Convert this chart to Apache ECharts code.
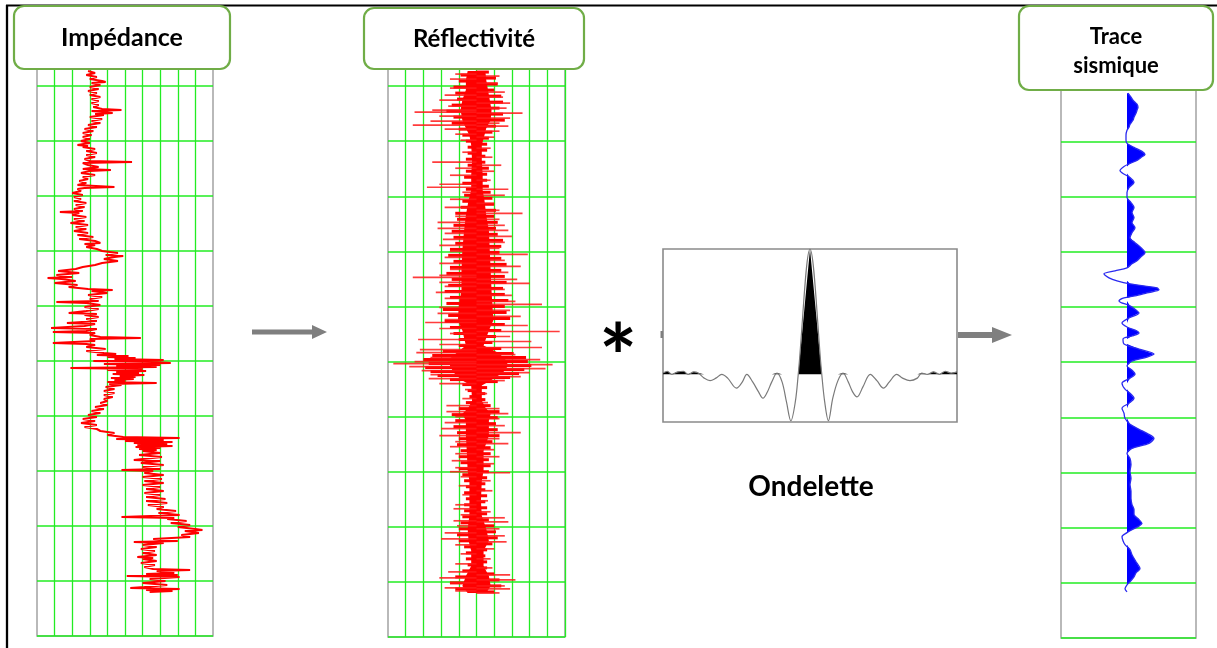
<!DOCTYPE html>
<html><head><meta charset="utf-8">
<script src="https://cdn.jsdelivr.net/npm/echarts@6/dist/echarts.min.js"></script>
<style>html,body{margin:0;padding:0;background:#fff}#c{width:1217px;height:648px}</style>
</head><body><div id="c"></div>
<script>
// ---------------- DATA ----------------
const panelTitles = ['Impédance', 'Réflectivité', 'Trace', 'sismique'];
const waveletTitle = 'Ondelette';
const convSymbol = '*';

// Impedance log: [time, impedance (relative, 0-100)]
const impLog = [
[40,29],[42,33],[44,28],[46,34],[48,30],[50,37],[51,39],[52,31],[54,36],[56,30],
[58,35],[60,29],[62,34],[64,30],[66,36],[68,31],[70,35],[72,31],[74,35],[76,32],
[78,37],[79,48],[80,31],[82,43],[83,33],[84,38],[86,30],[88,37],[90,31],[92,36],
[94,29],[96,34],[98,27],[100,32],[102,26],[104,31],[106,26],[108,30],[110,25],[112,30],
[114,23],[115,29],[116,26],[118,33],[120,28],[122,34],[124,28],[126,33],[128,27],[130,30],
[131,54],[132,26],[134,29],[136,35],[138,26],[139,42],[140,30],[142,25],[144,33],[146,26],
[148,29],[150,24],[152,28],[154,23],[156,44],[157,27],[158,23],[160,25],[162,20],[164,26],
[166,21],[168,25],[170,21],[172,28],[174,22],[176,27],[178,21],[180,26],[181,13],[182,24],
[184,20],[186,28],[188,21],[190,27],[192,19],[194,29],[196,22],[198,28],[200,21],[202,29],
[204,23],[206,32],[208,24],[210,33],[212,36],[213,27],[214,33],[216,28],[218,34],[220,37],
[222,46],[224,39],[225,49],[226,44],[228,38],[230,46],[232,37],[234,33],[236,26],[238,22],
[240,12],[242,24],[244,11],[246,20],[247,6],[248,14],[250,22],[252,10],[254,23],[256,18],
[258,29],[259,43],[260,31],[262,40],[264,29],[266,37],[268,30],[270,35],[271,11],[272,28],
[274,36],[276,27],[278,35],[280,28],[282,18],[283,34],[284,27],[286,35],[288,28],[290,34],
[292,17],[293,33],[295,27],[297,8],[298,34],[300,28],[301,9],[302,33],[304,30],[306,36],
[307,59],[308,30],[310,33],[312,9],[313,28],[314,33],[316,28],[318,39],[320,28],[322,38],
[323,45],[324,34],[325,52],[326,40],[327,56],[328,44],[329,72],[330,32],[331,66],[332,76],
[333,38],[334,70],[335,45],[336,68],[337,19],[338,60],[339,40],[340,62],[341,45],[342,58],
[343,43],[344,61],[345,47],[346,56],[347,42],[348,55],[349,44],[350,50],[351,40],[352,68],
[353,41],[354,48],[356,39],[358,44],[360,38],[362,44],[364,38],[366,43],[368,38],[370,40],
[372,36],[374,40],[376,33],[378,38],[380,31],[382,36],[384,29],[386,34],[388,26],[390,33],
[392,25],[394,34],[396,27],[398,34],[400,36],[402,44],[404,40],[406,49],[407,81],[408,45],
[409,72],[410,50],[411,77],[412,55],[413,74],[414,57],[415,77],[416,56],[417,70],[418,58],
[419,68],[420,60],[422,70],[424,58],[426,71],[428,60],[429,55],[430,70],[432,59],[434,72],
[436,60],[438,70],[439,48],[440,66],[442,61],[444,72],[446,60],[448,71],[450,61],[452,72],
[454,60],[456,70],[458,62],[460,72],[462,61],[464,70],[466,62],[468,73],[470,62],[472,74],
[474,63],[476,72],[478,68],[480,79],[482,69],[484,81],[486,48],[487,78],[488,74],[490,85],
[492,76],[494,87],[496,80],[498,90],[499,94],[500,84],[502,92],[504,82],[506,87],[508,66],
[510,80],[511,55],[512,72],[514,60],[516,68],[518,59],[520,67],[522,60],[524,68],[526,57],
[527,66],[528,60],[530,68],[532,59],[534,67],[536,61],[538,66],[539,87],[540,68],[542,78],
[543,62],[544,80],[545,51],[546,81],[548,64],[550,73],[552,60],[554,74],[556,61],[557,53],
[558,81],[559,62],[560,77],[561,64]
];

// Reflectivity dense core envelope: [time, left, right]
const refCore = [
[40,-5,5],[49,-6,5.5],[59,-6,6.5],[69,-8,7.5],[79,-9,8.5],[89,-8,8],[97,-6,5.5],[104,-4,4.5],
[114,-3,3],[129,-2.5,3],[144,-3,3.5],[159,-3,3.5],[169,-4.5,4.5],[184,-6,5.5],[199,-7,7],
[219,-8,7.5],[239,-8.5,8],[259,-8.5,8.5],[274,-10,9],[289,-10.5,9.5],[299,-8,7],[314,-6,4],
[321,-11,12],[327,-15,16],[334,-15,18],[341,-13,15],[349,-8,8],[354,-3,3],[369,-2.5,3],
[376,-4.5,5],[382,-8,8],[389,-6,7],[404,-6,7],[419,-5.5,4],[439,-5,4],[449,-4,3],[469,-4,2.5],
[484,-4,3],[497,-5,5.5],[509,-4.5,7],[519,-3,4],[534,-3,4],[544,-6,7],[554,-8,8],[561,-5,5.5]
];

// Reflectivity, strong reflections: [time, reflection coefficient]
const refSpikes = [
[43,-12],[45,13],[48,-15],[52,12],[57,-15],[61,16],[64,-18],[66,15],[69,-21],[72,19],
[75,-16],[77,17],[79,-25],[81,-35],[82,26],[85,-21],[87,19],[90,-26],[92,13],[94,-36],
[95,18],[98,-18],[100,13],[103,-12],[106,10],[109,-9],[117,8],[121,-8],[126,9],[131,-25],
[134,14],[137,-12],[140,10],[144,-15],[149,8],[153,-21],[156,-28],[158,18],[161,-8],[164,16],
[168,-15],[172,10],[176,-18],[179,13],[182,26],[185,-12],[188,13],[191,-22],[194,16],[197,-22],
[199,18],[202,-18],[205,20],[208,-19],[211,16],[214,-21],[217,13],[220,-15],[223,29],[226,-18],
[229,16],[232,-21],[235,25],[238,-15],[241,18],[244,-21],[246,-36],[248,23],[251,-21],[252,30],
[255,-18],[258,16],[261,-23],[264,20],[267,-18],[270,22],[273,37],[276,-21],[279,19],[282,-22],
[285,25],[288,-18],[291,-29],[294,29],[297,-21],[300,47],[302,-15],[305,19],[308,-33],[310,31],
[313,-21],[316,37],[318,-32],[321,-34],[323,22],[326,-26],[328,36],[330,-35],[332,-47],[333,43],
[335,-38],[337,39],[339,-31],[341,30],[343,-26],[345,25],[347,-27],[349,16],[352,-21],
[358,-6.5],[362,6],[367,-8],[371,6.5],[374,-17],[377,13],[380,-17],[382,18],[385,-12],[387,13],
[391,-18],[394,16],[397,-20],[401,25],[404,-21],[407,13],[410,-12],[412,18],[415,-15],[418,10],
[422,-12],[425,13],[429,-14],[432,10],[436,-12],[440,-15],[441,19],[445,-9],[449,8],[454,-10],
[459,9],[463,-8],[469,6.5],[473,-12],[477,-13],[480,8],[483,-9],[486,16],[489,-13],[490,18],
[494,-11],[497,13],[501,-18],[504,16],[507,-20],[510,17],[513,-12],[517,10],[522,-9],[527,8],
[532,-12],[536,9],[540,-16],[543,19],[546,-21],[548,22],[551,-15],[554,16],[556,-18],[557,19],
[559,-12],[561,13]
];

// Reflectivity, weak reflections: [time, reflection coefficient]
const refMinor = [
[41,7],[44,-9],[47,11],[50,-10],[53,12],[56,-13],[59,10],[62,-12],[65,14],[68,-11],
[71,15],[74,-14],[77,13],[80,-17],[83,15],[86,-13],[89,16],[92,-14],[95,11],[98,-10],
[101,9],[104,-8],[107,7],[110,-6],[113,6],[116,-5],[119,6],[122,-5],[125,5],[128,-6],
[131,5],[134,-5],[137,7],[140,-6],[143,6],[146,-7],[149,6],[152,-8],[155,7],[158,-6],
[161,8],[164,-7],[167,9],[170,-8],[173,10],[176,-9],[179,11],[182,-12],[185,10],[188,-11],
[191,12],[194,-13],[197,11],[200,-14],[203,12],[206,-13],[209,15],[212,-12],[215,14],[218,-15],
[221,13],[224,-16],[227,14],[230,-13],[233,17],[236,-15],[239,14],[242,-17],[245,16],[248,-14],
[251,17],[254,-16],[257,15],[260,-18],[263,16],[266,-15],[269,18],[272,-17],[275,16],[278,-19],
[281,17],[284,-16],[287,19],[290,-18],[293,16],[296,-15],[299,14],[302,-13],[305,11],[308,-10],
[311,9],[314,-10],[317,14],[320,-19],[322,21],[324,-25],[326,28],[328,-30],[330,29],[332,-27],
[334,31],[336,-29],[338,27],[340,-26],[342,24],[344,-22],[346,19],[348,-15],[350,12],[353,-8],
[356,6],[359,-5],[362,5],[365,-4],[368,5],[371,-6],[374,8],[377,-10],[380,13],[383,-14],
[386,12],[389,-12],[392,11],[395,-13],[398,12],[401,-11],[404,13],[407,-10],[410,9],[413,-11],
[416,8],[419,-9],[422,8],[425,-10],[428,7],[431,-9],[434,8],[437,-10],[440,7],[443,-8],
[446,6],[449,-7],[452,5],[455,-6],[458,5],[461,-7],[464,6],[467,-6],[470,5],[473,-7],
[476,6],[479,-7],[482,6],[485,-8],[488,7],[491,-9],[494,10],[497,-10],[500,11],[503,-11],
[506,12],[509,-10],[512,9],[515,-7],[518,6],[521,-6],[524,5],[527,-6],[530,6],[533,-5],
[536,6],[539,-8],[542,10],[545,-12],[548,13],[551,-15],[554,14],[557,-12],[560,10]
];

// Seismic trace: [time, amplitude]
const trace = [
[62,1],[66,4],[69,6],[73,10],[76,11],[79,10],[82,9],[86,7],[89,6],[93,3],[96,2],[99,0],
[104,-1],[109,-1],[112,0],[116,7],[120,15],[123,18],[126,14],[129,10],[132,3],[135,-3],
[139,-7],[142,-4],[146,3],[151,7],[156,2],[161,0],[166,0],[171,4],[176,7],[181,5],[186,7],
[191,5],[196,8],[201,5],[206,3],[211,8],[216,14],[221,18],[225,14],[229,10],[232,5],[236,0],
[239,-12],[242,-23],[246,-18],[249,-10],[252,3],[256,30],[258,32],[261,20],[264,8],[266,-3],
[269,-8],[274,3],[278,9],[281,12],[286,2],[291,-5],[295,0],[299,10],[301,12],[304,5],
[307,-4],[312,-3],[317,12],[322,27],[325,20],[329,5],[334,0],[338,5],[342,8],[346,3],
[351,-5],[357,-2],[361,3],[366,7],[371,2],[376,-5],[381,-3],[386,-2],[392,3],[397,12],
[401,20],[406,27],[411,22],[416,5],[421,0],[426,3],[432,4],[439,3],[446,4],[452,3],[459,4],
[466,4],[472,5],[477,7],[482,7],[487,12],[491,15],[494,11],[497,5],[500,0],[504,-5],
[508,-4],[512,-2],[517,3],[522,5],[529,9],[536,13],[540,9],[544,7],[549,3],[552,0],
[556,-2],[559,0]
];

// Wavelet: [time, amplitude]
const wavelet = [
[-100,0.01],[-97,0.025],[-94,0],[-90,0.02],[-86,0.025],[-83,0],[-79,0.02],[-76,0.01],
[-72,-0.03],[-68,-0.05],[-64,-0.03],[-60,0],[-56,-0.03],[-50,-0.11],[-46,-0.06],[-43,0],
[-39,-0.06],[-35,-0.14],[-32,-0.19],[-29,-0.14],[-26,-0.06],[-22.5,0.01],[-19,-0.06],
[-16,-0.22],[-13,-0.37],[-10,-0.22],[-8,0],[0,1],[8,0],[10,-0.22],[12.5,-0.37],[15.5,-0.19],
[19,-0.05],[22.5,0.01],[26,-0.06],[29,-0.14],[32,-0.18],[36,-0.1],[41,0],[45.5,-0.05],
[50,-0.11],[54,-0.06],[59,0],[63,-0.03],[68,-0.05],[73,-0.03],[76,0.01],[80,0],[84,0.02],
[88,0],[92,0.025],[96,0.01],[100,0.02]
];

// ---------------- CHART ----------------
const GREEN = '#22ec22';
const GRAY = '#a3a3a3';
const FONT = 'Lato, "Open Sans", sans-serif';

function axis(gi, min, max, interval, split, inverse, width) {
  return {
    type: 'value', gridIndex: gi, min: min, max: max, interval: interval, inverse: !!inverse,
    axisLine: {show: false}, axisTick: {show: false}, axisLabel: {show: false},
    splitLine: split ? Object.assign({show: true, lineStyle: {color: GREEN, width: width || 1.4}}, split) : {show: false}
  };
}

const chart = echarts.init(document.getElementById('c'), null, {renderer: 'canvas'});

function hPolygon(points, fill) {
  return function (params, api) {
    const pts = points.map(p => api.coord(p));
    return {type: 'polygon', shape: {points: pts}, style: {fill: fill}};
  };
}
function spikeRender(color, width, opacity) {
  return function (params, api) {
    const a = api.coord([0, api.value(1)]);
    const b = api.coord([api.value(0), api.value(1)]);
    return {type: 'line', shape: {x1: a[0], y1: a[1], x2: b[0], y2: b[1]},
      style: {stroke: color, lineWidth: width, opacity: opacity}};
  };
}

const corePts = refCore.map(r => [r[2], r[0]]).concat(refCore.slice().reverse().map(r => [r[1], r[0]]));
const traceFillPts = trace.map(p => [Math.max(p[1], 0), p[0]])
  .concat([[0, trace[trace.length - 1][0]], [0, trace[0][0]]]);

const boxStyle = {fill: '#fff', stroke: '#70ad47', lineWidth: 2.2};
function titleText(txt, x, y, size) {
  return {type: 'text', x: x, y: y, z: 120,
    style: {text: txt, fontSize: size, fontWeight: 'bold', fontFamily: FONT, fill: '#000',
      align: 'center', verticalAlign: 'middle', textAlign: 'center', textVerticalAlign: 'middle'}};
}

const option = {
  animation: false,
  backgroundColor: '#fff',
  grid: [
    {left: 37, top: 31, width: 176, height: 605, show: true, borderColor: GRAY, borderWidth: 1.5},
    {left: 388, top: 31, width: 177, height: 606, show: true, borderColor: GRAY, borderWidth: 1.5},
    {left: 1061, top: 31, width: 135, height: 607, show: true, borderColor: GRAY, borderWidth: 1.5},
    {left: 663, top: 249, width: 294, height: 173, show: true, borderColor: '#8a8a8a', borderWidth: 1.6}
  ],
  xAxis: [
    axis(0, 0, 100, 10, {showMinLine: false, showMaxLine: false}, false, 1.3),
    axis(1, -50, 50, 10, {showMinLine: false, showMaxLine: true}, false, 1.3),
    axis(2, -66, 69, null, null),
    axis(3, -100, 100, null, null)
  ],
  yAxis: [
    axis(0, 0, 605, 55, {showMinLine: false}, true, 1.7),
    axis(1, 0, 605, 55, {showMinLine: false}, true, 1.7),
    axis(2, 0, 605, 55, {showMinLine: false}, true, 1.7),
    axis(3, -0.38, 1, null, null)
  ],
  series: [
    {type: 'line', xAxisIndex: 0, yAxisIndex: 0, data: impLog.map(p => [p[1], p[0]]),
      showSymbol: false, symbol: 'none', lineStyle: {color: '#ff0000', width: 2.1}, z: 3},
    {type: 'custom', xAxisIndex: 1, yAxisIndex: 1, data: [[0, 300]], renderItem: hPolygon(corePts, '#ff0000'), z: 3},
    {type: 'custom', xAxisIndex: 1, yAxisIndex: 1, data: refMinor.map(p => [p[1], p[0]]), z: 4,
      renderItem: spikeRender('#ff0000', 3, 1)},
    {type: 'custom', xAxisIndex: 1, yAxisIndex: 1, data: refSpikes.map(p => [p[1], p[0]]), z: 4,
      renderItem: spikeRender('#ff1a1a', 1.7, 0.85)},
    {type: 'custom', xAxisIndex: 2, yAxisIndex: 2, data: [[0, 300]], renderItem: hPolygon(traceFillPts, '#0000ff'), z: 3},
    {type: 'line', xAxisIndex: 2, yAxisIndex: 2, data: trace.map(p => [p[1], p[0]]), smooth: 0.3,
      showSymbol: false, symbol: 'none', lineStyle: {color: '#2a2af0', width: 1.3}, z: 4},
    {type: 'line', xAxisIndex: 3, yAxisIndex: 3, data: wavelet.map(p => [p[0], Math.max(p[1], 0)]),
      showSymbol: false, symbol: 'none', lineStyle: {width: 0}, areaStyle: {color: '#000', opacity: 1}, z: 3},
    {type: 'line', xAxisIndex: 3, yAxisIndex: 3, data: wavelet, smooth: 0.35,
      showSymbol: false, symbol: 'none', lineStyle: {color: '#7a7a7a', width: 1.2}, z: 4}
  ],
  graphic: [
    {type: 'line', z: 90, shape: {x1: 6, y1: 5.5, x2: 1217, y2: 5.5}, style: {stroke: '#000', lineWidth: 2}},
    {type: 'line', z: 90, shape: {x1: 7, y1: 5, x2: 7, y2: 648}, style: {stroke: '#000', lineWidth: 2.3}},
    {type: 'polygon', z: 90, shape: {points: [[252,329.5],[312,329.5],[312,325],[327,332],[312,339],[312,334.5],[252,334.5]]}, style: {fill: '#7f7f7f'}},
    {type: 'polygon', z: 90, shape: {points: [[958,332],[992,332],[992,327],[1012,335],[992,343],[992,338],[958,338]]}, style: {fill: '#7f7f7f'}},
    {type: 'rect', z: 90, shape: {x: 660.5, y: 331, width: 2.5, height: 7}, style: {fill: '#7f7f7f'}},
    {type: 'rect', z: 110, shape: {x: 14, y: 6, width: 216, height: 63, r: 10}, style: boxStyle},
    {type: 'rect', z: 110, shape: {x: 364, y: 8, width: 220, height: 61, r: 10}, style: boxStyle},
    {type: 'rect', z: 110, shape: {x: 1019, y: 6, width: 194, height: 84, r: 10}, style: boxStyle},
    titleText(panelTitles[0], 122, 38, 25),
    titleText(panelTitles[1], 474, 39, 24),
    titleText(panelTitles[2], 1116, 37, 22),
    titleText(panelTitles[3], 1116, 66, 22),
    titleText(waveletTitle, 811, 487, 28),
    titleText(convSymbol, 618, 361, 90)
  ]
};
chart.setOption(option);
</script>
</body></html>
